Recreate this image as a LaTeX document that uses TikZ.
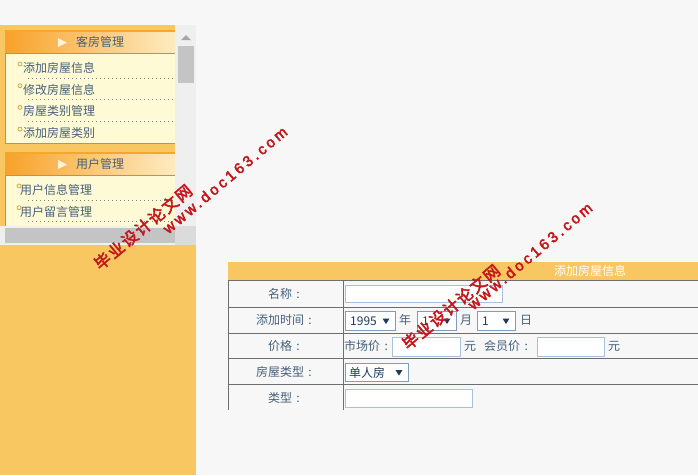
\documentclass[tikz,border=0pt]{standalone}
\usepackage{fontspec}
\setmainfont{Noto Sans CJK SC}
\newfontfamily\wmlatin[LetterSpace=20,FakeBold=3]{Liberation Sans}
\newfontfamily\wmcjk[LetterSpace=10,FakeBold=3]{Noto Sans CJK SC}
\usetikzlibrary{positioning}
\definecolor{pagebg}{HTML}{F7F7F7}
\definecolor{panel}{HTML}{F9C762}
\definecolor{menubody}{HTML}{FEFAD6}
\definecolor{menuline}{HTML}{C8913A}
\definecolor{hdleft}{HTML}{F8A22A}
\definecolor{hdright}{HTML}{FDEBC0}
\definecolor{hdtop}{HTML}{F5A828}
\definecolor{txt}{HTML}{46607A}
\definecolor{track}{HTML}{EFEFEF}
\definecolor{thumb}{HTML}{C4C4C4}
\definecolor{grid}{HTML}{6E6E6E}
\definecolor{inbox}{HTML}{A8C0DC}
\definecolor{selline}{HTML}{7F9DB9}
\definecolor{navy}{HTML}{1F3A5C}
\definecolor{wmred}{HTML}{C4171C}
\newcommand\fcolon{\makebox[1em]{:}}
\tikzset{every node/.style={inner sep=0pt, text=txt, font=\fontsize{12}{12}\selectfont},
  menuhead/.style={left color=hdleft, middle color=hdleft!65!hdright, right color=hdright},
  menuitem/.style={anchor=west},
  dotline/.style={gray, dash pattern=on 0.8pt off 3.2pt, line width=0.8pt},
  field/.style={draw=inbox, fill=white, line width=1pt, anchor=north west},
  selbox/.style={draw=selline, fill=white, line width=1pt, anchor=north west,
    path picture={\fill[navy] ([xshift=-13pt,yshift=2.5pt]path picture bounding box.east)
      -- ++(7pt,0pt) -- ++(-3.5pt,-5.5pt) -- cycle;}},
  rowlabel/.style={anchor=center},
  wmark/.style={text=wmred, rotate=40}}

\begin{document}
\begin{tikzpicture}[x=1pt,y=-1pt]
  \useasboundingbox[fill=pagebg] (0,0) rectangle (698,475);
  % left frame
  \begin{scope}
   \fill[panel] (0,25) rectangle (196,475);
   % menu 1
   \fill[menuhead] (5,30) rectangle (175,53);
   \draw[hdtop, line width=2pt] (5,31) -- (175,31);
   \fill[hdright!60!white] (58,38) -- (67,42.5) -- (58,47) -- cycle;
   \node (head1) at (100,42) {客房管理};
   \draw[menuline, fill=menubody] (5.5,53.5) rectangle (176,143);
   \foreach \t [count=\i] in {添加房屋信息,修改房屋信息,房屋类别管理,添加房屋类别}{
     \pgfmathsetmacro\yy{68+21.7*(\i-1)}
     \draw[menuline, fill=menubody!80!yellow, line width=0.6pt] (20,\yy-4) circle (2);
     \node[menuitem] (m1\i) at (23,\yy) {\t};
   }
   \foreach \i in {1,2,3}
     \draw[dotline] ([yshift=-10pt]m1\i.west -| 28,0) -- ++(147,0);
   % menu 2
   \fill[menuhead] (5,152) rectangle (175,175);
   \draw[hdtop, line width=2pt] (5,153) -- (175,153);
   \fill[hdright!60!white] (58,160) -- (67,164.5) -- (58,169) -- cycle;
   \node (head2) at (100,164) {用户管理};
   \draw[menuline, fill=menubody] (5.5,175.5) rectangle (176,240);
   \foreach \t [count=\i] in {用户信息管理,用户留言管理}{
     \pgfmathsetmacro\yy{190+21.7*(\i-1)}
     \draw[menuline, fill=menubody!80!yellow, line width=0.6pt] (19,\yy-4) circle (2);
     \node[menuitem] (m2\i) at (20,\yy) {\t};
     \draw[dotline] (28,\yy+10) -- ++(147,0);
   }
   % scroll bars
   \fill[track] (175,25) rectangle (196,226);
   \fill[thumb] (178,46) rectangle (194,83);
   \fill[gray!70] (181,40) -- (191,40) -- (186,35) -- cycle;
   \fill[track] (0,226) rectangle (196,245);
   \fill[thumb] (5,228) rectangle (175,243);
   \fill[gray!28] (175,226) rectangle (196,245);
  \end{scope}
  % form table
  \begin{scope}
   \fill[panel] (228,262) rectangle (698,280);
   \node[text=white] (title) at (590,271) {添加房屋信息};
   \foreach \y in {280.5,307,333,358.5,384}
     \draw[grid] (228,\y) -- (698,\y);
   \foreach \x in {228.5,343.5}
     \draw[grid] (\x,280) -- (\x,410);
   \foreach \t [count=\i] in {名称,添加时间,价格,房屋类型,类型}
     \node[rowlabel] (lab\i) at (286,294+25.9*\i-25.9) {\t\fcolon};
   % row 1
   \node[field, minimum width=157, minimum height=17] (name) at (345,285) {};
   % row 2
   \node[selbox, minimum width=50, minimum height=19] (year) at (345,311) {};
   \node[anchor=west, text=navy] at ([xshift=5pt]year.west) {1995};
   \node (nian) at (405,320) {年};
   \node[selbox, minimum width=39, minimum height=19] (month) at (417,311) {};
   \node[anchor=west, text=navy] at ([xshift=5pt]month.west) {1};
   \node (yue) at (466,320) {月};
   \node[selbox, minimum width=38, minimum height=19] (day) at (477,311) {};
   \node[anchor=west, text=navy] at ([xshift=5pt]day.west) {1};
   \node (ri) at (526,320) {日};
   % row 3
   \node[anchor=west] (market) at (344,346) {市场价\fcolon};
   \node[field, minimum width=68, minimum height=19] (mprice) at (392,337) {};
   \node (yuan1) at (470,346) {元};
   \node[anchor=west] (member) at (484,346) {会员价\fcolon};
   \node[field, minimum width=67, minimum height=19] (vprice) at (537,337) {};
   \node (yuan2) at (614,346) {元};
   % row 4
   \node[selbox, minimum width=63, minimum height=18] (kind) at (345,363) {};
   \node[anchor=west, text=navy] at ([xshift=4pt]kind.west) {单人房};
   % row 5
   \node[field, minimum width=127, minimum height=18] (type) at (345,389) {};
  \end{scope}
  % watermarks
  \node[wmark, font=\wmcjk\fontsize{16}{16}\selectfont] (wm1cn) at (143,227) {毕业设计论文网};
  \node[wmark, font=\wmlatin\fontsize{15}{15}\selectfont] (wm1en) at (225,180) {www.doc163.com};
  \node[wmark, font=\wmcjk\fontsize{16}{16}\selectfont] (wm2cn) at (451,307) {毕业设计论文网};
  \node[wmark, font=\wmlatin\fontsize{15}{15}\selectfont] (wm2en) at (530,256) {www.doc163.com};
\end{tikzpicture}
\end{document}
